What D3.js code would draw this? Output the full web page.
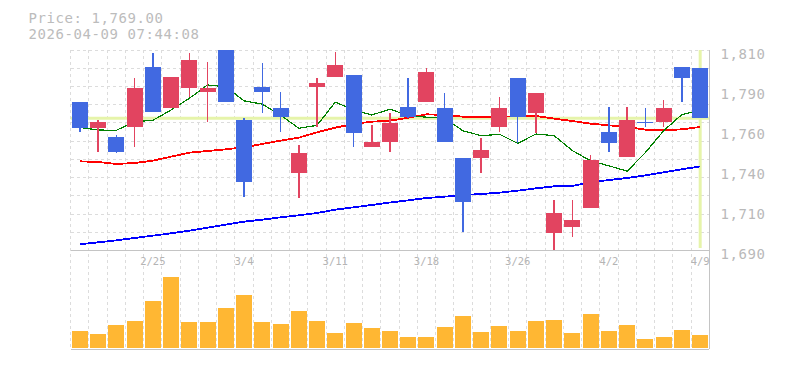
<!DOCTYPE html>
<html><head><meta charset="utf-8">
<script src="https://cdn.jsdelivr.net/npm/d3@7"></script>
<style>html,body{margin:0;padding:0;background:#fff;} svg{display:block;}</style>
</head><body>
<svg id="c" width="785" height="370"></svg>
<script>
// ---- data ----
const dates = ["2/18","2/19","2/20","2/24","2/25","2/26","2/27","3/2","3/3","3/4","3/5","3/6","3/9","3/10","3/11","3/12","3/13","3/16","3/17","3/18","3/19","3/23","3/24","3/25","3/26","3/27","3/30","3/31","4/1","4/2","4/3","4/6","4/7","4/8","4/9"];
const open  = [1779,1763,1758,1764,1800,1775,1787,1785,1810,1768,1788,1775,1736,1788,1794,1795,1752,1755,1776,1779,1775,1745,1745,1764,1793,1772,1700,1704,1715,1761,1746,1767,1767,1800,1799];
const high  = [1779,1768,1759,1793,1808,1794,1808,1803,1810,1769,1802,1785,1753,1793,1809,1795,1765,1772,1793,1799,1784,1745,1757,1782,1793,1784,1720,1720,1747,1776,1776,1775,1780,1800,1799];
const low   = [1761,1749,1748,1752,1773,1775,1782,1767,1779,1722,1772,1761,1721,1764,1794,1752,1752,1749,1769,1779,1755,1701,1736,1761,1754,1760,1690,1698,1715,1749,1746,1764,1764,1779,1769];
const close = [1763,1767,1749,1787,1773,1794,1804,1787,1779,1731,1785,1770,1748,1790,1801,1760,1755,1766,1770,1797,1755,1719,1750,1775,1770,1784,1712,1708,1744,1754,1768,1766,1775,1793,1769];
const volume = [167,137,227,267,467,710,257,257,397,527,257,237,367,267,147,247,197,167,107,107,207,317,157,217,167,267,277,147,337,167,227,87,107,177,127];
const ma5  = [1763.5,1762,1761.8,1767,1767.8,1774,1781,1789,1788,1779.5,1777.5,1771,1763,1764.8,1778.7,1774,1771,1774.5,1770.6,1769.7,1769,1761.5,1758.6,1759.4,1754,1759.6,1758.6,1749.6,1743.5,1740.5,1737.3,1748.5,1761.6,1771.3,1773.8];
const ma25 = [1743.2,1742.8,1741.6,1742.2,1743.6,1746,1748.4,1749.4,1750.4,1751.6,1753.6,1755.6,1757.4,1760.6,1763.4,1765.6,1767,1767.6,1769.4,1771.4,1771,1770,1769.8,1769.8,1770.4,1770.4,1768.8,1767.4,1765.8,1764.8,1763.8,1762.2,1761.8,1762.4,1763.8];
const ma75 = [1693.4,1694.6,1695.8,1697.2,1698.6,1700,1701.6,1703.4,1705.2,1707,1708.2,1709.6,1710.8,1712.2,1714.2,1715.6,1717,1718.5,1719.8,1721.2,1722,1723,1723.6,1724.4,1725.6,1727,1728.2,1728.4,1730.6,1732,1733.2,1734.8,1736.6,1738.4,1740.2];
const priceTicks = [1690,1714,1738,1762,1786,1810];
const priceTickLabels = ["1,690","1,710","1,740","1,760","1,790","1,810"];
const dateTicks = ["2/25","3/4","3/11","3/18","3/26","4/2","4/9"];
const lastPrice = 1769.00;
const stamp = "2026-04-09 07:44:08";

// ---- layout ----
const L = 70.7, R = 709.3, T = 50, B = 250.7, VB = 349.3;
const FONT = "'DejaVu Sans Mono', 'Liberation Mono', monospace";
const UP = "#e24460", DOWN = "#4169e1", VOL = "#ffb733", HL = "#e6f4aa";

const svg = d3.select("#c");
const x = d3.scaleBand().domain(dates).range([L, R]);
const bw = x.bandwidth();
const cx = d => x(d) + bw / 2;
const y = d3.scaleLinear().domain([1690, 1810]).range([250, 50]);
const yv = d3.scaleLinear().domain([0, 970]).range([347.7, 250.7]);
const candleW = 16;

// grid
const grid = svg.append("g").attr("stroke", "#dcdcdc").attr("stroke-dasharray", "3,3").attr("stroke-width", 1).attr("shape-rendering", "crispEdges");
grid.selectAll("line.v").data(dates).enter().append("line")
  .attr("x1", d => x(d)).attr("x2", d => x(d)).attr("y1", T).attr("y2", VB);
grid.selectAll("line.h").data(d3.range(11)).enter().append("line")
  .attr("x1", L).attr("x2", R).attr("y1", i => T + i * (B - T) / 11).attr("y2", i => T + i * (B - T) / 11);

// frame
const frame = svg.append("g").attr("stroke", "#c4c4c4").attr("stroke-width", 1.5).attr("shape-rendering", "crispEdges");
frame.append("line").attr("x1", L).attr("x2", R).attr("y1", B).attr("y2", B);
frame.append("line").attr("x1", L).attr("x2", R).attr("y1", VB).attr("y2", VB);
frame.append("line").attr("x1", R).attr("x2", R).attr("y1", T).attr("y2", VB);

// current price lines
svg.append("line").attr("x1", L).attr("x2", R).attr("y1", y(lastPrice)).attr("y2", y(lastPrice))
  .attr("stroke", HL).attr("stroke-width", 3);
svg.append("line").attr("x1", cx(dates[dates.length - 1])).attr("x2", cx(dates[dates.length - 1]))
  .attr("y1", T).attr("y2", 248).attr("stroke", HL).attr("stroke-width", 3);

// moving averages
const line = arr => d3.line().x((d, i) => cx(dates[i])).y(d => y(d))(arr);
[[ma75, "#0000ff", 1.8], [ma25, "#ff0000", 1.8], [ma5, "#008000", 1.2]].forEach(([arr, col, w]) => {
  svg.append("path").attr("d", line(arr)).attr("fill", "none").attr("stroke", col)
    .attr("stroke-width", w).attr("shape-rendering", "crispEdges");
});

// candles
const cg = svg.append("g").attr("shape-rendering", "crispEdges");
const cd = dates.map((d, i) => ({ d, o: open[i], h: high[i], l: low[i], c: close[i] }));
cg.selectAll("line.w").data(cd).enter().append("line")
  .attr("x1", k => cx(k.d)).attr("x2", k => cx(k.d))
  .attr("y1", k => y(k.h)).attr("y2", k => y(k.l))
  .attr("stroke", k => k.c >= k.o ? UP : DOWN).attr("stroke-width", 1.5);
cg.selectAll("rect.b").data(cd).enter().append("rect")
  .attr("x", k => cx(k.d) - candleW / 2).attr("width", candleW)
  .attr("y", k => y(Math.max(k.o, k.c)))
  .attr("height", k => Math.max(1, Math.abs(y(k.o) - y(k.c))))
  .attr("fill", k => k.c >= k.o ? UP : DOWN);

// volume
svg.append("g").attr("shape-rendering", "crispEdges").selectAll("rect").data(volume).enter().append("rect")
  .attr("x", (v, i) => cx(dates[i]) - candleW / 2).attr("width", candleW)
  .attr("y", v => yv(v)).attr("height", v => yv(0) - yv(v)).attr("fill", VOL);

// axes
const ya = svg.append("g").attr("transform", `translate(720.5,0)`)
  .call(d3.axisRight(y).tickValues(priceTicks).tickFormat((d, i) => priceTickLabels[i]).tickSize(0).tickPadding(0));
ya.select(".domain").remove();
ya.selectAll("text").attr("dy", null).attr("y", 8.3).attr("x", 0)
  .attr("font-family", FONT).attr("font-size", 14).attr("letter-spacing", 0.57).attr("fill", "#b9b9b9");

const xa = svg.append("g").attr("transform", `translate(0,255)`)
  .call(d3.axisBottom(x).tickValues(dateTicks).tickSize(0).tickPadding(0));
xa.select(".domain").remove();
xa.selectAll("text").attr("dy", null).attr("y", 10.3)
  .attr("font-family", FONT).attr("font-size", 10.5).attr("fill", "#b4b4b4");

// title
const fmt = d3.format(",.2f");
svg.append("text").attr("x", 28.5).attr("y", 22.6).attr("font-family", FONT).attr("font-size", 14)
  .attr("letter-spacing", 0.57).attr("fill", "#bcbcbc").text("Price: " + fmt(lastPrice));
svg.append("text").attr("x", 28.5).attr("y", 39).attr("font-family", FONT).attr("font-size", 14)
  .attr("letter-spacing", 0.57).attr("fill", "#bcbcbc").text(stamp);
</script>
</body></html>
